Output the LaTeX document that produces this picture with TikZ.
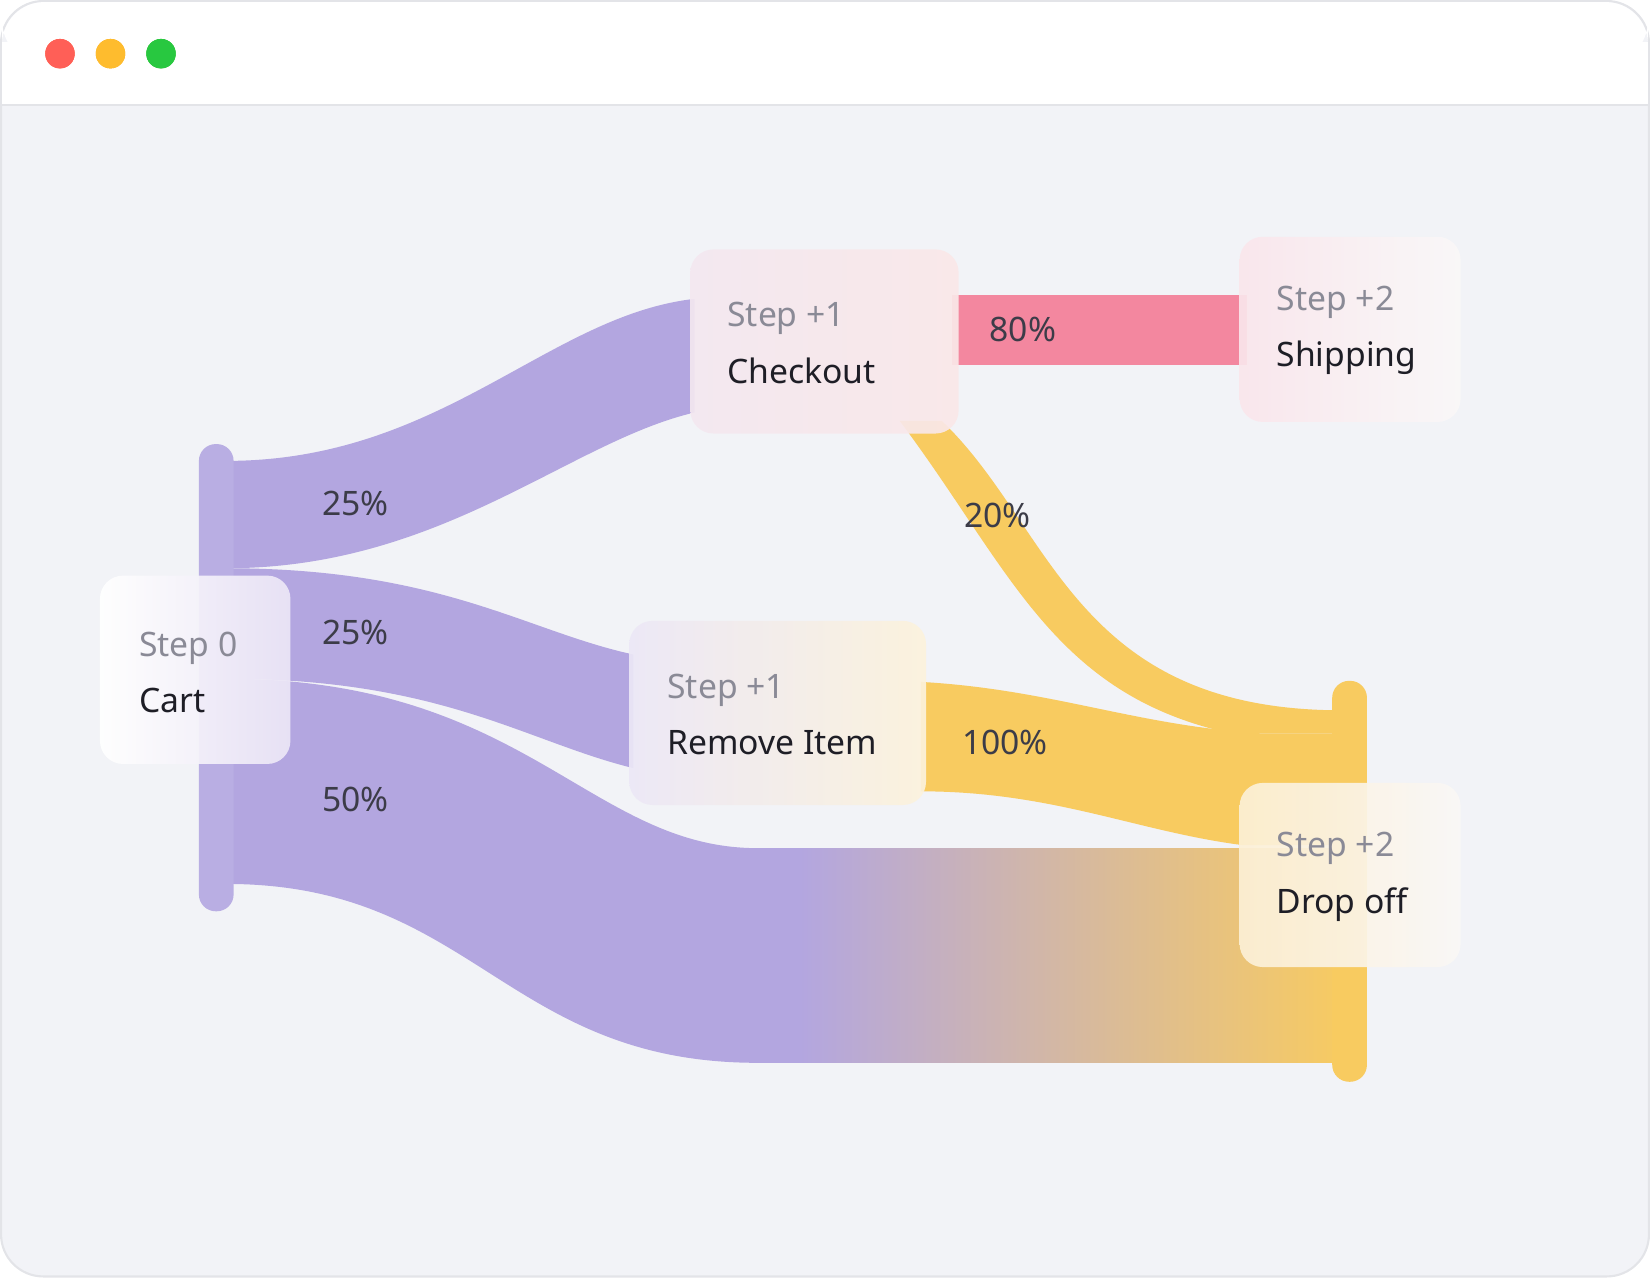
\documentclass[tikz,border=0pt]{standalone}
\usepackage{fontspec}
\setmainfont{Noto Sans}
\definecolor{bg}{HTML}{F2F3F7}
\definecolor{edge}{HTML}{E3E4E8}
\definecolor{purp}{HTML}{B3A6E0}
\definecolor{purpbar}{HTML}{B9AEE3}
\definecolor{yel}{HTML}{F8CB60}
\definecolor{pinkf}{HTML}{F3879F}
\definecolor{gr}{HTML}{8A8A96}
\definecolor{dk}{HTML}{1E1E26}
\definecolor{pc}{HTML}{3C3C48}
\begin{document}
\begin{tikzpicture}[x=1pt,y=-1pt,
  card/.style={rounded corners=22pt,fill opacity=0.92},
  lab/.style={anchor=west,align=left,font=\fontsize{32}{54}\selectfont,inner sep=0},
  pct/.style={text=pc,font=\fontsize{32}{36}\selectfont}]
\useasboundingbox (0,0) rectangle (1568,1214);
\path[fill=bg,draw=edge,line width=2pt,rounded corners=40pt] (1,1) rectangle (1567,1213);
\path[fill=white,rounded corners=40pt] (2,2) rectangle (1566,60);
\path[fill=white] (2,40) rectangle (1566,100);
\draw[edge,line width=2pt] (2,100) -- (1566,100);
\fill[red!60!orange!80] (57,51) circle (14);
\fill[orange!70!yellow] (105,51) circle (14);
\fill[green!70!black!90] (153,51) circle (14);
\node[circle,fill={rgb,255:red,255;green,95;blue,87},minimum size=28pt,inner sep=0] (d1) at (57,51) {};
\node[circle,fill={rgb,255:red,254;green,188;blue,46},minimum size=28pt,inner sep=0] (d2) at (105,51) {};
\node[circle,fill={rgb,255:red,40;green,200;blue,64},minimum size=28pt,inner sep=0] (d3) at (153,51) {};
% flows
\fill[purp] (215,438) .. controls (420,438) and (520,300) .. (660,284) -- (660,392) .. controls (540,420) and (420,540) .. (215,540) -- cycle;
\fill[purp] (215,540) .. controls (420,540) and (500,600) .. (602,622) -- (602,730) .. controls (500,705) and (420,645) .. (215,645) -- cycle;
\fill[purp] (215,645) .. controls (500,645) and (560,806) .. (720,806) -- (1282,806) -- (1282,1010) -- (720,1010) .. controls (480,1010) and (450,840) .. (215,840) -- cycle;
\shade[left color=purp,right color=yel] (760,806) rectangle (1282,1010);
\fill[yel] (895,400) .. controls (1000,500) and (1020,675) .. (1275,675) -- (1275,697) -- (1170,697) .. controls (1000,660) and (960,540) .. (855,400) -- cycle;
\fill[yel] (875,648) .. controls (1000,655) and (1080,690) .. (1200,697) -- (1275,697) -- (1275,803) -- (1180,803) .. controls (1080,790) and (1000,752) .. (875,752) -- cycle;
\fill[pinkf] (905,280) rectangle (1185,347);
\fill[purpbar,rounded corners=16pt] (189,422) rectangle (222,866);
\fill[yel,rounded corners=16pt] (1266,647) rectangle (1299,1028);
% cards
\shade[card,top color=white,bottom color=white,left color=white,right color={rgb,255:red,236;green,231;blue,246}] (95,547) rectangle (276,726);
\shade[card,left color={rgb,255:red,244;green,232;blue,240},right color={rgb,255:red,250;green,232;blue,232}] (656,237) rectangle (911,412);
\shade[card,left color={rgb,255:red,250;green,230;blue,236},right color={rgb,255:red,250;green,248;blue,248}] (1178,225) rectangle (1388,401);
\shade[card,left color={rgb,255:red,236;green,232;blue,246},right color={rgb,255:red,252;green,242;blue,220}] (598,590) rectangle (880,765);
\shade[card,left color={rgb,255:red,252;green,240;blue,214},right color={rgb,255:red,250;green,248;blue,246}] (1178,744) rectangle (1388,919);
\node[lab] (cart) at (132,639) {\textcolor{gr}{Step 0}\\\textcolor{dk}{\bfseries Cart}};
\node[lab] (chk) at (691,326) {\textcolor{gr}{Step +1}\\\textcolor{dk}{\bfseries Checkout}};
\node[lab] (shp) at (1213,314) {\textcolor{gr}{Step +2}\\\textcolor{dk}{\bfseries Shipping}};
\node[lab] (rem) at (634,679) {\textcolor{gr}{Step +1}\\\textcolor{dk}{\bfseries Remove Item}};
\node[lab] (drp) at (1213,833) {\textcolor{gr}{Step +2}\\\textcolor{dk}{\bfseries Drop off}};
\node[pct] (p1) at (338,478) {25\%};
\node[pct] (p2) at (338,601) {25\%};
\node[pct] (p3) at (338,760) {50\%};
\node[pct] (p4) at (972,313) {80\%};
\node[pct] (p5) at (948,490) {20\%};
\node[pct] (p6) at (955,706) {100\%};
\end{tikzpicture}
\end{document}
